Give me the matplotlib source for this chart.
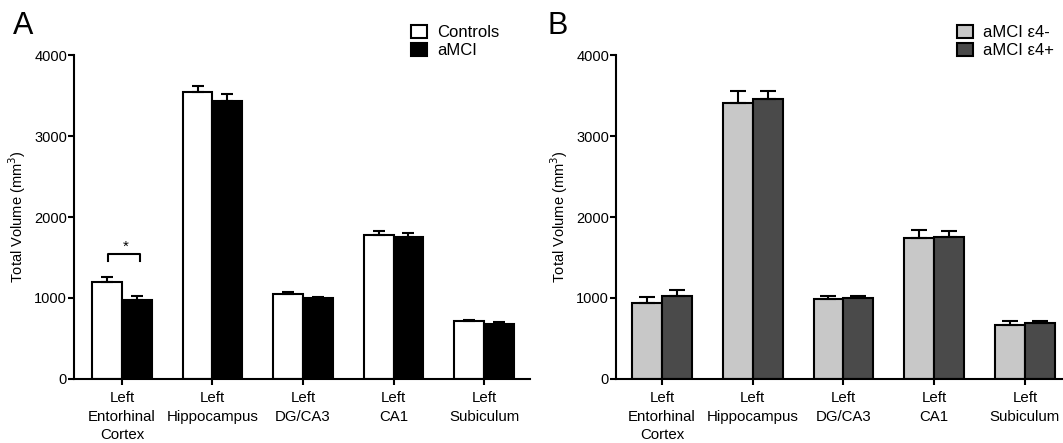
import numpy as np
import matplotlib.pyplot as plt
from matplotlib.patches import Patch

plt.rcParams['font.family'] = ['Liberation Sans', 'DejaVu Sans']

# Data
regions = ['Left\nEntorhinal\nCortex', 'Left\nHippocampus', 'Left\nDG/CA3', 'Left\nCA1', 'Left\nSubiculum']

# Panel A
controls = [1193, 3546, 1053, 1775, 710]
controls_err = [62, 74, 24, 50, 21]
amci = [978, 3434, 995, 1754, 685]
amci_err = [50, 79, 20, 50, 17]

# Panel B
e4_neg = [937, 3410, 987, 1746, 669]
e4_neg_err = [70, 144, 41, 91, 41]
e4_pos = [1024, 3451, 995, 1754, 693]
e4_pos_err = [74, 103, 29, 75, 29]

x = np.arange(len(regions))
w = 0.33

fig = plt.figure(figsize=(10.63, 4.43), dpi=100)
axA = fig.add_axes([0.0696, 0.1445, 0.4290, 0.7313])
axB = fig.add_axes([0.5795, 0.1445, 0.4205, 0.7313])


def draw(ax, v1, e1, v2, e2, c1, c2, xlim, cap):
    ekw = dict(elinewidth=1.5, capthick=1.5, ecolor='black')
    ax.bar(x - w / 2, v1, w, color=c1, edgecolor='black', linewidth=1.5,
           yerr=[np.zeros(len(v1)), e1], capsize=cap, error_kw=ekw, zorder=2)
    ax.bar(x + w / 2, v2, w, color=c2, edgecolor='black', linewidth=1.5,
           yerr=[np.zeros(len(v2)), e2], capsize=cap, error_kw=ekw, zorder=2)
    ax.set_ylim(0, 4000)
    ax.set_xlim(*xlim)
    ax.set_yticks([0, 1000, 2000, 3000, 4000])
    ax.set_xticks(x)
    ax.set_xticklabels(regions, fontsize=10.8, linespacing=1.4)
    ax.tick_params(axis='y', labelsize=10.5, width=1.5, length=4.2, direction='out', pad=0.8)
    ax.tick_params(axis='x', width=1.5, length=4, direction='out', pad=5)
    for s in ['top', 'right']:
        ax.spines[s].set_visible(False)
    for s in ['left', 'bottom']:
        ax.spines[s].set_linewidth(1.5)
    ax.set_ylabel('Total Volume (mm$^3$)', fontsize=10.5, labelpad=4.5)


draw(axA, controls, controls_err, amci, amci_err, 'white', 'black', (-0.53, 4.508), 4.6)
draw(axB, e4_neg, e4_neg_err, e4_pos, e4_pos_err, '#c8c8c8', '#4a4a4a', (-0.507, 4.42), 6)

# significance bracket
axA.plot([-0.15, -0.15, 0.195, 0.195], [1453, 1548, 1548, 1453], color='black', lw=1.5)
axA.text(0.045, 1545, '*', ha='center', va='bottom', fontsize=11)

fig.text(0.0122, 0.923, 'A', fontsize=22, va='baseline')
fig.text(0.5146, 0.923, 'B', fontsize=22, va='baseline')

leg_kw = dict(loc='upper left', frameon=False, fontsize=12, handlelength=0.95,
              handleheight=0.8, handletextpad=0.6, labelspacing=0.2,
              borderaxespad=0, borderpad=0)

legA = [Patch(facecolor='white', edgecolor='black', linewidth=1.5, label='Controls'),
        Patch(facecolor='black', edgecolor='black', linewidth=1.5, label='aMCI')]
fig.legend(handles=legA, bbox_to_anchor=(0.3866, 0.944), **leg_kw)

legB = [Patch(facecolor='#c8c8c8', edgecolor='black', linewidth=1.5, label='aMCI ε4-'),
        Patch(facecolor='#4a4a4a', edgecolor='black', linewidth=1.5, label='aMCI ε4+')]
fig.legend(handles=legB, bbox_to_anchor=(0.9003, 0.944), **leg_kw)

fig.savefig('out.png', dpi=100)
